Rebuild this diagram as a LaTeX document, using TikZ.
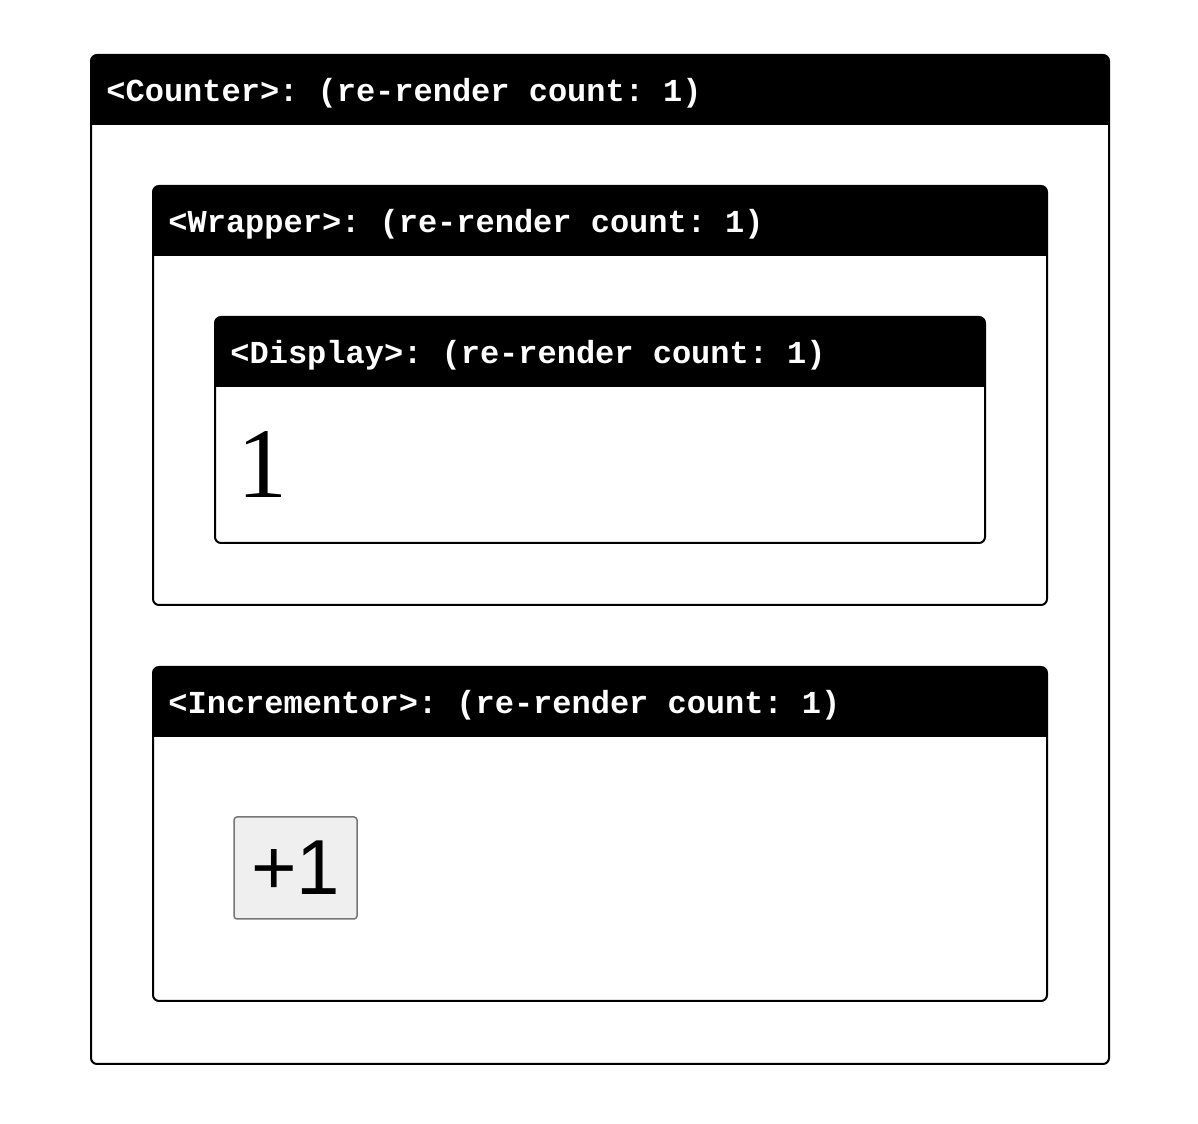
\documentclass[tikz,border=0pt]{standalone}
\usepackage{fontspec}
\setmainfont{Liberation Serif}
\setsansfont{Liberation Sans}
\setmonofont{Liberation Mono}
\definecolor{btnfill}{HTML}{EFEFEF}
\definecolor{btnline}{HTML}{767676}
\begin{document}
\begin{tikzpicture}[line join=round,
    compbox/.style={draw=black,line width=1bp,rounded corners=3bp},
    comphead/.style={fill=black,rounded corners=3bp},
    headtext/.style={anchor=west,inner sep=0pt,text=white,
      font=\ttfamily\bfseries\fontsize{16bp}{19bp}\selectfont},
    bignum/.style={anchor=base west,inner sep=0pt,
      font=\rmfamily\fontsize{50bp}{58bp}\selectfont},
    button/.style={draw=btnline,fill=btnfill,line width=0.75bp,
      rounded corners=1.5bp,inner sep=0pt,
      font=\sffamily\fontsize{39bp}{46bp}\selectfont},
  ]
  \useasboundingbox (0bp,0bp) rectangle (599bp,562bp);
  %% Counter
  \fill [comphead] (45.5bp,499.5bp) rectangle (554.5bp,534.5bp);
  \fill (45.5bp,499.5bp) rectangle (554.5bp,510bp);
  \draw [compbox] (45.5bp,30bp) rectangle (554.5bp,534.5bp);
  \node (counterhead) at (53bp,515.5bp) [headtext] {<Counter>: (re-render count: 1)};
  %% Wrapper
  \fill [comphead] (76.5bp,434bp) rectangle (523.5bp,469bp);
  \fill (76.5bp,434bp) rectangle (523.5bp,445bp);
  \draw [compbox] (76.5bp,259.5bp) rectangle (523.5bp,469bp);
  \node (wrapperhead) at (84bp,450bp) [headtext] {<Wrapper>: (re-render count: 1)};
  %% Display
  \fill [comphead] (107.5bp,368.5bp) rectangle (492.5bp,403.5bp);
  \fill (107.5bp,368.5bp) rectangle (492.5bp,380bp);
  \draw [compbox] (107.5bp,290.5bp) rectangle (492.5bp,403.5bp);
  \node (displayhead) at (115bp,384.5bp) [headtext] {<Display>: (re-render count: 1)};
  \node (countval) at (118.5bp,313bp) [bignum] {1};
  %% Incrementor
  \fill [comphead] (76.5bp,193.5bp) rectangle (523.5bp,228.5bp);
  \fill (76.5bp,193.5bp) rectangle (523.5bp,205bp);
  \draw [compbox] (76.5bp,61.5bp) rectangle (523.5bp,228.5bp);
  \node (incrhead) at (84bp,209.5bp) [headtext] {<Incrementor>: (re-render count: 1)};
  \node (plusone) at (147.75bp,128bp) [button,minimum width=61.5bp,minimum height=51bp] {+1};
  %
\end{tikzpicture}
\end{document}
